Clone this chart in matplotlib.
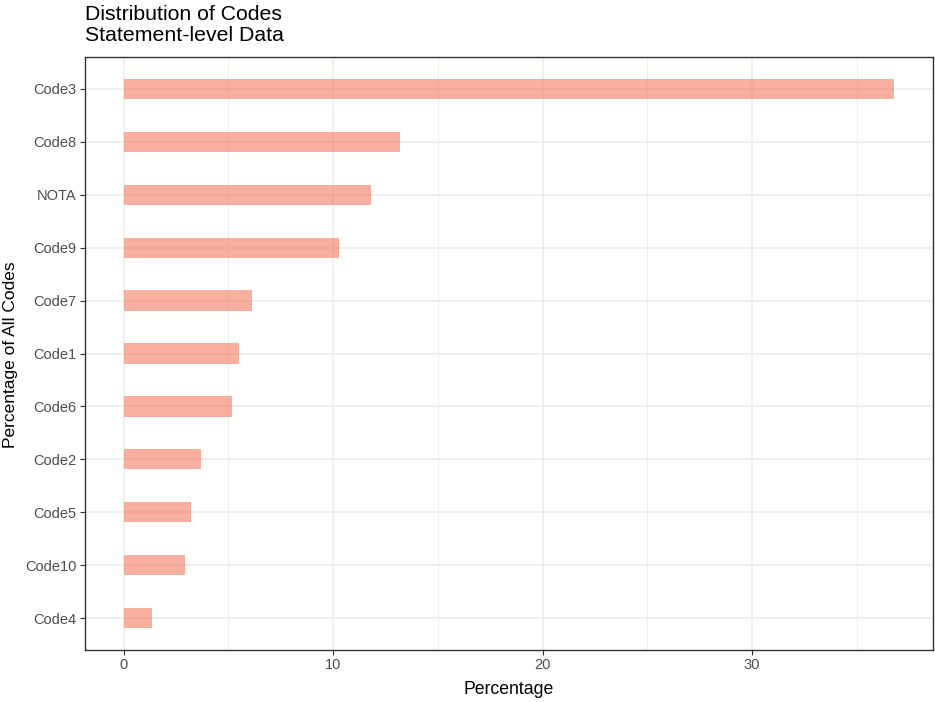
import matplotlib
matplotlib.use("Agg")
import matplotlib.pyplot as plt

# data, bottom to top as drawn
codes = ["Code4", "Code10", "Code5", "Code2", "Code6", "Code1", "Code7", "Code9", "NOTA", "Code8", "Code3"]
percent = [1.34, 2.91, 3.22, 3.70, 5.19, 5.50, 6.14, 10.3, 11.79, 13.2, 36.8]
xticks = [0, 10, 20, 30]
minor_xticks = [5, 15, 25, 35]

plt.rcParams["font.family"] = ["Liberation Sans", "DejaVu Sans"]

fig = plt.figure(figsize=(9.35, 7.02), dpi=100)
ax = fig.add_axes([85 / 935, 52 / 702, 848 / 935, 593 / 702])

ypos = list(range(1, len(codes) + 1))
ax.barh(ypos, percent, height=0.38, color="#F47A5E", alpha=0.6,
        edgecolor="none", zorder=3)

ax.set_xlim(-1.84, 38.64)
ax.set_ylim(0.4, 11.6)
ax.set_xticks(xticks)
ax.set_xticks(minor_xticks, minor=True)
ax.set_yticks(ypos)
ax.set_yticklabels(codes)

ax.grid(True, which="major", color="#EBEBEB", linewidth=1.1, zorder=0)
ax.grid(True, which="minor", axis="x", color="#EBEBEB", linewidth=0.6, zorder=0)
ax.set_axisbelow(True)

ax.tick_params(which="major", length=3.5, width=0.8, color="#333333",
               labelsize=10.5, labelcolor="#4D4D4D", pad=2.5)
ax.tick_params(which="minor", length=0)
for s in ax.spines.values():
    s.set_color("#333333")
    s.set_linewidth(1.0)

ax.set_xlabel("Percentage", fontsize=12.7, color="black", labelpad=6)
fig.text(11 / 935, 1 - 355 / 702, "Percentage of All Codes", fontsize=12.5,
         rotation=90, ha="center", va="center")

fig.text(85 / 935, 1 - 5 / 702, "Distribution of Codes\nStatement-level Data",
         fontsize=15.3, ha="left", va="top", linespacing=1.12)

fig.savefig("out.png", dpi=100)
